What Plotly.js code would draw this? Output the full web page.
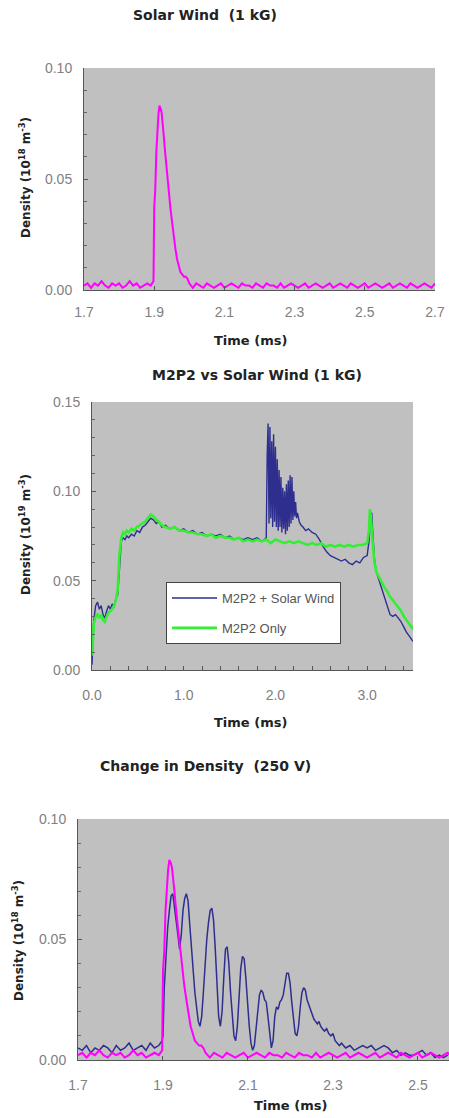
<!DOCTYPE html>
<html>
<head>
<meta charset="utf-8">
<script src="https://cdn.plot.ly/plotly-3.0.1.min.js"></script>
<style>html,body{margin:0;padding:0;background:#fff;}#chart{width:449px;height:1118px;}</style>
</head>
<body>
<div id="chart"></div>
<script>
// ---- Solar wind only (magenta), time in ms, density ----
const swTime = [1.70,1.71,1.72,1.73,1.74,1.75,1.76,1.77,1.78,1.79,1.80,1.81,1.82,1.83,1.84,1.85,1.86,1.87,1.88,1.89,
  1.895,1.898,1.900,1.903,1.906,1.909,1.912,1.915,1.918,1.921,1.924,1.927,1.930,1.934,1.938,1.942,1.946,1.950,1.955,1.960,1.965,1.970,1.975,1.980,1.985,1.990,1.995,2.000,
  2.01,2.02,2.03,2.04,2.05,2.06,2.07,2.08,2.09,2.10,2.11,2.12,2.13,2.14,2.15,2.16,2.17,2.18,2.19,2.20,
  2.21,2.22,2.23,2.24,2.25,2.26,2.27,2.28,2.29,2.30,2.31,2.32,2.33,2.34,2.35,2.36,2.37,2.38,2.39,2.40,
  2.41,2.42,2.43,2.44,2.45,2.46,2.47,2.48,2.49,2.50,2.51,2.52,2.53,2.54,2.55,2.56,2.57,2.58,2.59,2.60,
  2.61,2.62,2.63,2.64,2.65,2.66,2.67,2.68,2.69,2.70];
const swDensity = [0.002,0.003,0.001,0.003,0.002,0.004,0.002,0.001,0.003,0.002,0.003,0.001,0.002,0.004,0.002,0.003,0.001,0.002,0.003,0.002,
  0.003,0.004,0.037,0.045,0.062,0.072,0.079,0.083,0.082,0.080,0.076,0.070,0.064,0.056,0.050,0.044,0.037,0.031,0.025,0.019,0.014,0.011,0.008,0.007,0.006,0.006,0.005,0.003,
  0.001,0.003,0.002,0.001,0.003,0.002,0.001,0.002,0.003,0.001,0.002,0.003,0.002,0.001,0.003,0.002,0.002,0.001,0.003,0.002,
  0.001,0.003,0.002,0.002,0.001,0.003,0.001,0.002,0.003,0.002,0.001,0.002,0.003,0.001,0.002,0.003,0.002,0.001,0.002,0.003,
  0.001,0.002,0.003,0.002,0.001,0.003,0.002,0.001,0.002,0.003,0.001,0.002,0.003,0.002,0.001,0.002,0.003,0.001,0.002,0.003,
  0.002,0.001,0.003,0.002,0.001,0.002,0.003,0.002,0.001,0.003];

// ---- M2P2 + Solar Wind (blue) ----
const mswTime = [0.00,0.01,0.02,0.04,0.06,0.08,0.10,0.12,0.14,0.16,0.18,0.20,0.22,0.24,0.26,0.28,0.30,0.32,0.34,0.36,0.38,0.40,0.43,0.46,0.49,0.52,0.55,0.58,0.61,0.64,0.67,0.70,0.73,0.76,0.80,0.85,0.90,0.95,1.00,1.05,1.10,1.15,1.20,1.25,1.30,1.35,1.40,1.45,1.50,1.55,1.60,1.65,1.70,1.75,1.80,1.85,1.88,
  1.90,1.91,1.92,1.93,1.94,1.95,1.96,1.97,1.98,1.99,2.00,2.01,2.02,2.03,2.04,2.05,2.06,2.07,2.08,2.09,2.10,2.11,2.12,2.13,2.14,2.15,2.16,2.17,2.18,2.19,2.20,2.21,2.22,2.23,2.24,2.26,2.28,2.30,2.33,2.36,2.40,2.44,2.48,2.52,2.56,2.60,2.64,2.68,2.72,2.76,2.80,2.84,2.88,2.92,2.96,3.00,3.02,3.04,3.05,3.06,3.08,3.10,3.13,3.16,3.19,3.22,3.25,3.28,3.31,3.34,3.37,3.40,3.43,3.46,3.50];
const mswDensity = [0.003,0.012,0.028,0.036,0.038,0.034,0.036,0.031,0.029,0.033,0.036,0.034,0.037,0.035,0.040,0.042,0.060,0.072,0.074,0.073,0.075,0.074,0.076,0.075,0.078,0.077,0.080,0.081,0.083,0.085,0.084,0.082,0.083,0.080,0.081,0.079,0.080,0.078,0.079,0.077,0.078,0.076,0.077,0.075,0.076,0.075,0.076,0.074,0.075,0.073,0.074,0.073,0.074,0.073,0.074,0.072,0.073,
  0.074,0.120,0.138,0.082,0.136,0.085,0.128,0.080,0.132,0.083,0.125,0.080,0.118,0.078,0.112,0.080,0.108,0.077,0.102,0.079,0.100,0.076,0.104,0.078,0.106,0.080,0.109,0.082,0.108,0.084,0.100,0.086,0.094,0.085,0.088,0.083,0.081,0.080,0.078,0.079,0.077,0.076,0.073,0.069,0.066,0.064,0.063,0.062,0.061,0.062,0.060,0.059,0.061,0.060,0.063,0.064,0.072,0.086,0.088,0.078,0.062,0.055,0.050,0.045,0.040,0.035,0.031,0.030,0.031,0.029,0.027,0.024,0.021,0.019,0.016];

// ---- M2P2 only (green) ----
const mTime = [0.00,0.01,0.02,0.04,0.06,0.08,0.10,0.12,0.14,0.16,0.18,0.20,0.22,0.24,0.26,0.28,0.30,0.32,0.34,0.36,0.38,0.40,0.43,0.46,0.49,0.52,0.55,0.58,0.61,0.64,0.67,0.70,0.73,0.76,0.80,0.85,0.90,0.95,1.00,1.05,1.10,1.15,1.20,1.25,1.30,1.35,1.40,1.45,1.50,1.55,1.60,1.65,1.70,1.75,1.80,1.85,1.90,1.95,2.00,2.05,2.10,2.15,2.20,2.25,2.30,2.35,2.40,2.45,2.50,2.55,2.60,2.65,2.70,2.75,2.80,2.85,2.90,2.95,3.00,3.02,3.03,3.04,3.06,3.08,3.10,3.13,3.16,3.19,3.22,3.25,3.28,3.31,3.34,3.37,3.40,3.43,3.46,3.50];
const mDensity = [0.008,0.018,0.026,0.030,0.031,0.029,0.031,0.028,0.027,0.030,0.032,0.033,0.034,0.036,0.039,0.045,0.065,0.074,0.077,0.076,0.078,0.077,0.079,0.078,0.080,0.081,0.082,0.083,0.085,0.087,0.086,0.084,0.083,0.081,0.080,0.079,0.080,0.078,0.078,0.077,0.077,0.076,0.076,0.075,0.076,0.074,0.075,0.074,0.074,0.073,0.074,0.072,0.073,0.072,0.073,0.072,0.073,0.071,0.073,0.072,0.071,0.072,0.071,0.072,0.071,0.070,0.071,0.070,0.071,0.069,0.070,0.069,0.070,0.069,0.070,0.069,0.070,0.070,0.071,0.078,0.090,0.086,0.072,0.060,0.055,0.052,0.049,0.046,0.044,0.041,0.039,0.037,0.035,0.033,0.030,0.028,0.026,0.023];

// ---- Change in density (blue, bottom) ----
const dTime = [1.70,1.71,1.72,1.73,1.74,1.75,1.76,1.77,1.78,1.79,1.80,1.81,1.82,1.83,1.84,1.85,1.86,1.87,1.88,1.89,1.898,
  1.900,1.903,1.907,1.911,1.915,1.919,1.923,1.927,1.931,1.935,1.939,1.943,1.947,1.951,1.955,1.959,1.963,1.967,1.971,1.975,1.979,1.983,1.987,1.991,1.995,1.999,
  2.003,2.007,2.011,2.015,2.019,2.023,2.027,2.031,2.035,2.039,2.043,2.047,2.051,2.055,2.059,2.063,2.067,2.071,2.075,2.079,2.083,2.087,2.091,2.095,2.099,
  2.103,2.107,2.111,2.115,2.119,2.123,2.127,2.131,2.135,2.139,2.143,2.147,2.151,2.155,2.159,2.163,2.167,2.171,2.175,2.179,2.183,2.187,2.191,2.195,2.199,
  2.203,2.207,2.211,2.215,2.219,2.223,2.227,2.231,2.235,2.239,2.243,2.247,2.251,2.255,2.259,2.263,2.267,2.271,2.275,2.280,2.285,2.290,2.295,2.300,
  2.305,2.310,2.315,2.320,2.33,2.34,2.35,2.36,2.37,2.38,2.39,2.40,2.41,2.42,2.43,2.44,2.45,2.46,2.47,2.48,2.49,2.50,2.51,2.52,2.53,2.54,2.55,2.56,2.57];
const dDensity = [0.005,0.004,0.006,0.003,0.005,0.004,0.006,0.005,0.003,0.006,0.004,0.005,0.007,0.004,0.005,0.006,0.004,0.007,0.005,0.006,0.008,
  0.010,0.030,0.045,0.055,0.062,0.068,0.069,0.064,0.057,0.052,0.046,0.052,0.062,0.067,0.069,0.066,0.056,0.046,0.036,0.028,0.022,0.016,0.014,0.018,0.028,0.040,
  0.050,0.057,0.062,0.063,0.058,0.046,0.030,0.018,0.014,0.020,0.034,0.046,0.047,0.040,0.028,0.017,0.010,0.008,0.014,0.026,0.038,0.043,0.042,0.034,0.023,
  0.014,0.007,0.004,0.006,0.014,0.022,0.027,0.029,0.028,0.025,0.024,0.018,0.010,0.005,0.008,0.018,0.022,0.021,0.024,0.025,0.027,0.032,0.036,0.036,0.032,
  0.024,0.016,0.011,0.010,0.014,0.022,0.028,0.030,0.029,0.025,0.023,0.021,0.019,0.017,0.016,0.015,0.016,0.014,0.013,0.012,0.013,0.011,0.010,0.011,
  0.008,0.007,0.006,0.007,0.005,0.006,0.004,0.005,0.006,0.005,0.006,0.004,0.005,0.006,0.005,0.003,0.004,0.002,0.003,0.002,0.002,0.003,0.004,0.002,0.003,0.001,0.002,0.001,0.002];

const topXTicks = [1.7,1.9,2.1,2.3,2.5,2.7];
const midXTicks = [0,1,2,3];
const botXTicks = [1.7,1.9,2.1,2.3,2.5];
const densTicks = [0,0.05,0.10];
const densTicksMid = [0,0.05,0.10,0.15];

const W = 449, H = 1118;
const px = x => x / W;
const py = y => 1 - y / H;
const FONT = '"DejaVu Sans", Verdana, sans-serif';
const TICKFONT = '"Liberation Sans", Arial, sans-serif';
const MAGENTA = '#ff00ff', NAVY = '#2e2e8f', GREEN = '#33ee33';

function xAx(domain, range, ticks, stand) {
  return {domain, range, tickvals: ticks, tickformat: '.1f', ticks: 'inside', ticklen: 4, tickcolor: '#555',
    showline: true, linecolor: '#555', linewidth: 1, showgrid: false, zeroline: false,
    ticklabelstandoff: stand, tickfont: {family: TICKFONT, size: 14, color: '#808080'}};
}
function yAx(domain, range, ticks, anchor) {
  return {domain, range, tickvals: ticks, tickformat: '.2f', ticks: 'inside', ticklen: 4, tickcolor: '#555',
    minor: {dtick: 0.01, ticks: 'inside', ticklen: 3, tickcolor: '#666'},
    showline: true, linecolor: '#555', linewidth: 1, showgrid: false, zeroline: false, anchor,
    ticklabelstandoff: 8, tickfont: {family: TICKFONT, size: 14, color: '#808080'}};
}

const traces = [
  {x: swTime, y: swDensity, xaxis: 'x', yaxis: 'y', type: 'scatter', mode: 'lines', line: {color: MAGENTA, width: 2}, showlegend: false, name: 'Solar Wind'},
  {x: mswTime, y: mswDensity, xaxis: 'x2', yaxis: 'y2', type: 'scatter', mode: 'lines', line: {color: NAVY, width: 1.4}, name: 'M2P2 + Solar Wind', legendgroup: 'a'},
  {x: mTime, y: mDensity, xaxis: 'x2', yaxis: 'y2', type: 'scatter', mode: 'lines', line: {color: GREEN, width: 2.6}, name: 'M2P2 Only', legendgroup: 'b'},
  {x: dTime, y: dDensity, xaxis: 'x3', yaxis: 'y3', type: 'scatter', mode: 'lines', line: {color: NAVY, width: 1.5}, showlegend: false, name: 'Change'},
  {x: swTime, y: swDensity, xaxis: 'x3', yaxis: 'y3', type: 'scatter', mode: 'lines', line: {color: MAGENTA, width: 2}, showlegend: false, name: 'Solar Wind'}
];

const titleFont = {family: FONT, size: 12, color: '#222', weight: 'bold'};
function ann(text, x, y, rot, size) {
  return {text, x: px(x), y: py(y), xref: 'paper', yref: 'paper', showarrow: false, xanchor: 'center', yanchor: 'middle',
    textangle: rot || 0, font: Object.assign({}, titleFont, {size: size || 12})};
}

const layout = {
  width: W, height: H, margin: {l: 0, r: 0, t: 0, b: 0},
  paper_bgcolor: '#ffffff', plot_bgcolor: '#c0c0c0',
  font: {family: FONT},
  xaxis: xAx([px(84), px(435)], [1.7, 2.7], topXTicks, 9),
  yaxis: yAx([py(290), py(68)], [0, 0.1], densTicks, 'x'),
  xaxis2: Object.assign(xAx([px(92), px(413)], [0, 3.5], midXTicks, 12), {anchor: 'y2', minor: {dtick: 0.2, ticks: 'inside', ticklen: 4, tickcolor: '#555'}}),
  yaxis2: yAx([py(670), py(402)], [0, 0.15], densTicksMid, 'x2'),
  xaxis3: Object.assign(xAx([px(78), 1], [1.7, 2.573], botXTicks, 12), {anchor: 'y3'}),
  yaxis3: yAx([py(1060), py(819)], [0, 0.1], densTicks, 'x3'),
  showlegend: true,
  legend: {x: px(166), y: py(582), xanchor: 'left', yanchor: 'top', bgcolor: '#ffffff', bordercolor: '#444', borderwidth: 1,
    font: {family: TICKFONT, size: 13, color: '#555'}, itemwidth: 45, tracegroupgap: 10},
  annotations: [
    ann('Solar Wind  (1 kG)', 205, 15, 0, 14),
    ann('Density (10<sup>18</sup> m<sup>-3</sup>)', 25, 178, -90),
    ann('Time (ms)', 251, 340, 0, 13),
    ann('M2P2 vs Solar Wind (1 kG)', 257, 375, 0, 14),
    ann('Density (10<sup>19</sup> m<sup>-3</sup>)', 25, 535, -90),
    ann('Time (ms)', 251, 722, 0, 13),
    ann('Change in Density  (250 V)', 205, 766, 0, 14),
    ann('Density (10<sup>18</sup> m<sup>-3</sup>)', 18, 941, -90),
    ann('Time (ms)', 290, 1105, 0, 13)
  ]
};

Plotly.newPlot('chart', traces, layout, {staticPlot: true, displayModeBar: false});
</script>
</body>
</html>
